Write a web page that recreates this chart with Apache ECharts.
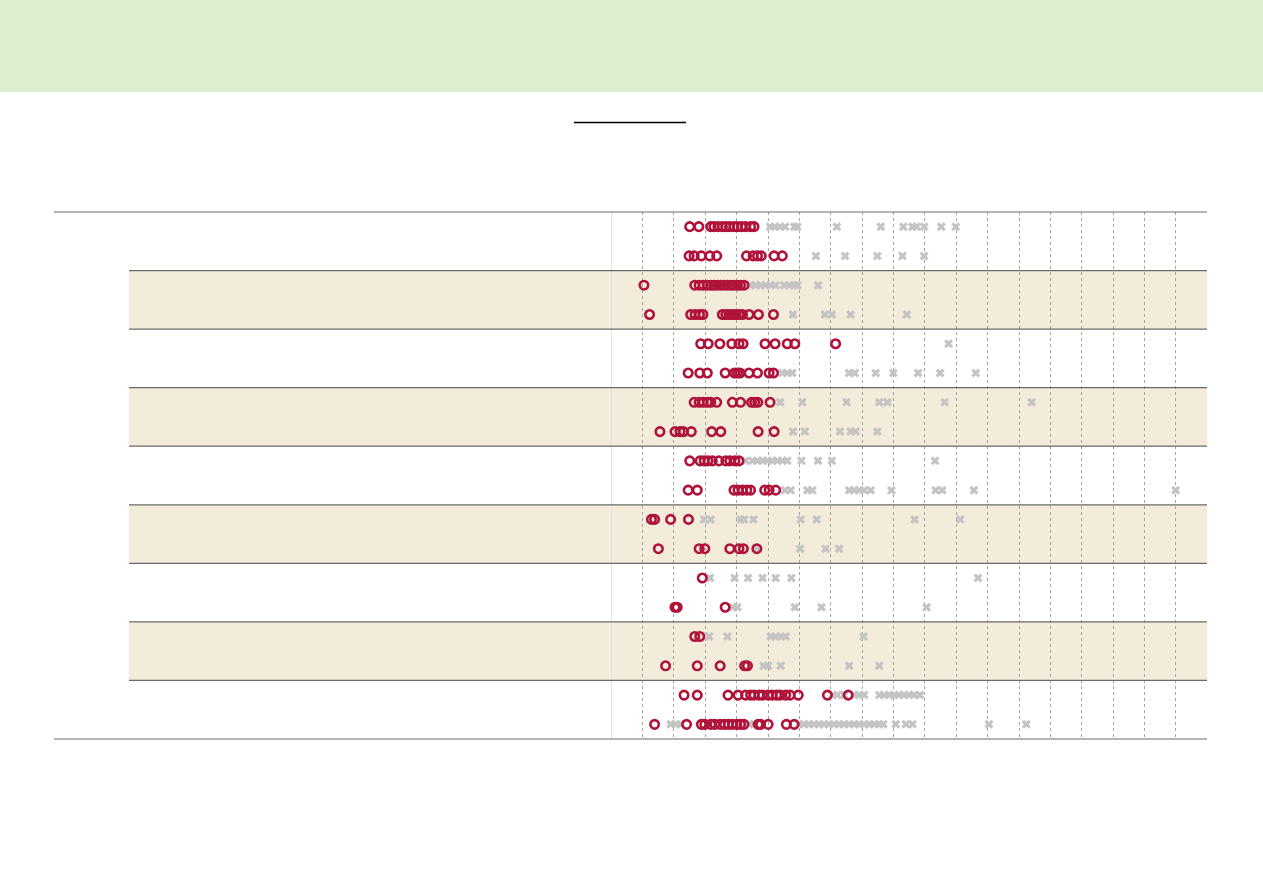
<!DOCTYPE html>
<html>
<head>
<meta charset="utf-8">
<script src="https://cdn.jsdelivr.net/npm/echarts@6.0.0/dist/echarts.min.js"></script>
<style>
html, body { margin: 0; padding: 0; background: #fff; }
#chart { width: 1263px; height: 893px; }
</style>
</head>
<body>
<div id="chart"></div>
<script>
// each group has two rows: [upper row, lower row]
const g1Circles = [[2.51, 2.80, 3.18, 3.28, 3.41, 3.55, 3.66, 3.78, 3.92, 4.03, 4.16, 4.29, 4.45, 4.56],
                   [2.49, 2.65, 2.88, 3.15, 3.37, 4.32, 4.53, 4.67, 4.79, 5.20, 5.46]];
const g1Crosses = [[5.07, 5.22, 5.38, 5.55, 5.84, 5.94, 7.20, 8.60, 9.32, 9.61, 9.74, 9.98, 10.53, 10.99],
                   [6.53, 7.46, 8.49, 9.29, 9.98]];
const g2Circles = [[1.05, 2.67, 2.81, 2.94, 3.07, 3.18, 3.28, 3.39, 3.50, 3.60, 3.71, 3.82, 3.92, 4.03, 4.13, 4.24],
                   [1.23, 2.54, 2.68, 2.82, 2.93, 3.55, 3.66, 3.76, 3.87, 3.98, 4.08, 4.19, 4.40, 4.70, 5.18]];
const g2Crosses = [[4.45, 4.61, 4.77, 4.93, 5.09, 5.25, 5.52, 5.68, 5.84, 5.94, 6.60],
                   [5.80, 6.82, 7.04, 7.64, 9.43]];
const g3Circles = [[2.86, 3.10, 3.47, 3.85, 4.08, 4.21, 4.91, 5.23, 5.62, 5.86, 7.16],
                   [2.46, 2.83, 3.07, 3.64, 3.94, 4.03, 4.11, 4.40, 4.67, 5.04, 5.18]];
const g3Crosses = [[10.76],
                   [5.46, 5.62, 5.78, 7.59, 7.77, 8.44, 9.00, 9.79, 10.49, 11.63]];
const g4Circles = [[2.65, 2.81, 2.94, 3.07, 3.18, 3.37, 3.87, 4.13, 4.48, 4.58, 4.68, 5.07],
                   [1.56, 2.04, 2.20, 2.31, 2.56, 3.21, 3.50, 4.69, 5.20]];
const g4Crosses = [[5.39, 6.10, 7.51, 8.55, 8.81, 10.64, 13.41],
                   [5.80, 6.18, 7.30, 7.64, 7.80, 8.49]];
const g5Circles = [[2.51, 2.84, 2.97, 3.09, 3.23, 3.44, 3.66, 3.79, 3.95, 4.08],
                   [2.46, 2.75, 3.92, 4.05, 4.19, 4.33, 4.45, 4.90, 5.04, 5.25]];
const g5Crosses = [[4.29, 4.51, 4.67, 4.83, 4.99, 5.14, 5.30, 5.46, 5.62, 6.07, 6.60, 7.04, 10.33],
                   [5.54, 5.73, 6.26, 6.42, 7.59, 7.75, 7.91, 8.07, 8.28, 8.94, 10.35, 10.56, 11.57, 18.00]];
const g6Circles = [[1.29, 1.39, 1.90, 2.47],
                   [1.51, 2.81, 2.99, 3.79, 4.08, 4.22, 4.65]];
const g6Crosses = [[2.97, 3.18, 4.13, 4.24, 4.54, 6.05, 6.56, 9.68, 11.13],
                   [4.65, 6.03, 6.84, 7.27]];
const g7Circles = [[2.91],
                   [2.04, 2.11, 3.64]];
const g7Crosses = [[3.16, 3.94, 4.37, 4.83, 5.25, 5.75, 11.70],
                   [3.87, 4.03, 5.86, 6.71, 10.06]];
const g8Circles = [[2.67, 2.83],
                   [1.74, 2.75, 3.48, 4.26, 4.35]];
const g8Crosses = [[3.13, 3.71, 5.09, 5.25, 5.41, 5.57, 8.05],
                   [4.86, 5.01, 5.41, 7.59, 8.55]];
const g9Circles = [[2.33, 2.75, 3.73, 4.05, 4.29, 4.45, 4.56, 4.72, 4.83, 5.01, 5.14, 5.28, 5.39, 5.57, 5.71, 5.97, 6.90, 7.56],
                   [1.39, 2.41, 2.88, 2.99, 3.18, 3.31, 3.48, 3.62, 3.74, 3.87, 4.01, 4.13, 4.24, 4.69, 4.77, 5.01, 5.59, 5.84]];
const g9Crosses = [[7.06, 7.22, 7.43, 7.75, 7.91, 8.07, 8.55, 8.71, 8.87, 9.02, 9.18, 9.34, 9.50, 9.66, 9.85],
                   [1.90, 2.06, 2.22, 4.40, 4.56, 5.99, 6.15, 6.31, 6.47, 6.63, 6.79, 6.95, 7.11, 7.27, 7.43, 7.59, 7.75, 7.91,
                    8.07, 8.23, 8.39, 8.55, 8.68, 9.08, 9.40, 9.61, 12.05, 13.24]];

const xMin = 0;
const xMax = 19;
const xStep = 1;

const circleGroups = [g1Circles, g2Circles, g3Circles, g4Circles, g5Circles, g6Circles, g7Circles, g8Circles, g9Circles];
const crossGroups = [g1Crosses, g2Crosses, g3Crosses, g4Crosses, g5Crosses, g6Crosses, g7Crosses, g8Crosses, g9Crosses];

const rowIds = [];
circleGroups.forEach((g, i) => { rowIds.push('r' + i + 'a', 'r' + i + 'b'); });

function toPoints(groups) {
    const pts = [];
    groups.forEach((g, gi) => {
        g.forEach((row, ri) => {
            row.forEach(v => pts.push([v, gi * 2 + ri]));
        });
    });
    return pts;
}

// layout
const W = 1263, H = 893;
const GRID_LEFT = 611, GRID_RIGHT = 56, GRID_TOP = 212, GRID_BOTTOM = 154;
const GRID_H = H - GRID_TOP - GRID_BOTTOM;
const groupH = GRID_H / circleGroups.length;
const RED = '#b01339';
const GREY = '#c4c4c4';
const CROSS = 'path://M0,2.5 L2.5,0 L5,2.5 L7.5,0 L10,2.5 L7.5,5 L10,7.5 L7.5,10 L5,7.5 L2.5,10 L0,7.5 L2.5,5 Z';

const decor = [
    { type: 'rect', z: -10, shape: { x: 0, y: 0, width: W, height: 92 }, style: { fill: '#dbeecd' } },
    { type: 'line', z: 5, shape: { x1: 574, y1: 122.5, x2: 686, y2: 122.5 }, style: { stroke: '#000', lineWidth: 1.5 } }
];
for (let i = 0; i < circleGroups.length; i++) {
    const y = GRID_TOP + i * groupH;
    if (i % 2 === 1) {
        decor.push({ type: 'rect', z: -10, shape: { x: 129, y: y, width: W - GRID_RIGHT - 129, height: groupH },
                     style: { fill: '#f3ecdb' } });
    }
    decor.push({ type: 'line', z: 5, shape: { x1: i === 0 ? 54 : 129, y1: y, x2: W - GRID_RIGHT, y2: y },
                 style: { stroke: '#6a6a6a', lineWidth: 1.2 } });
}
decor.push({ type: 'line', z: 5, shape: { x1: 54, y1: GRID_TOP + GRID_H, x2: W - GRID_RIGHT, y2: GRID_TOP + GRID_H },
             style: { stroke: '#6a6a6a', lineWidth: 1.2 } });

const chart = echarts.init(document.getElementById('chart'));
chart.setOption({
    animation: false,
    grid: { left: GRID_LEFT, right: GRID_RIGHT, top: GRID_TOP, bottom: GRID_BOTTOM },
    graphic: { elements: decor },
    xAxis: {
        type: 'value', min: xMin, max: xMax, interval: xStep,
        axisLine: { show: false }, axisTick: { show: false }, axisLabel: { show: false },
        splitLine: { show: true, showMinLine: false, showMaxLine: false,
                     lineStyle: { color: '#a5a5a5', width: 1, type: [3, 3] } }
    },
    yAxis: {
        type: 'category', data: rowIds, inverse: true,
        axisLine: { show: true, lineStyle: { color: '#e2e2e2', width: 1 } },
        axisTick: { show: false }, axisLabel: { show: false }, splitLine: { show: false }
    },
    series: [
        {
            name: 'crosses', type: 'scatter', z: 2,
            symbol: CROSS, symbolSize: 9,
            itemStyle: { color: GREY, opacity: 1 },
            data: toPoints(crossGroups)
        },
        {
            name: 'circles', type: 'scatter', z: 3,
            symbol: 'circle', symbolSize: 8.5,
            itemStyle: { color: 'rgba(0,0,0,0)', borderColor: RED, borderWidth: 2.6, opacity: 1 },
            data: toPoints(circleGroups)
        }
    ]
});
</script>
</body>
</html>
